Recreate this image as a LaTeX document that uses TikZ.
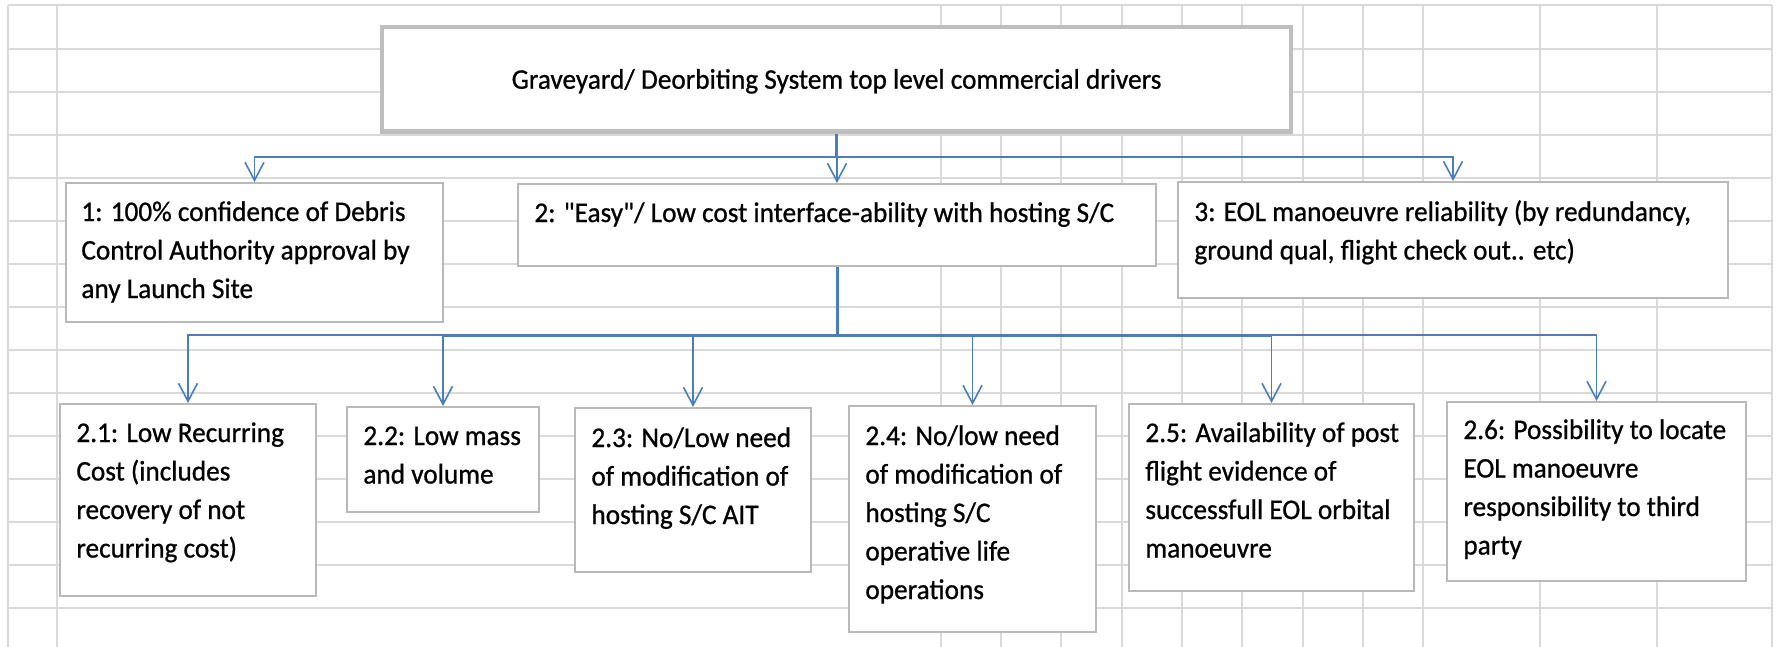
\documentclass[tikz,border=0pt]{standalone}
\usepackage{fontspec}
\setmainfont{Carlito}[FakeStretch=0.96,FakeBold=0.8,Ligatures=TeXOff]
\usetikzlibrary{arrows.meta,calc,fit}

\definecolor{gridgray}{RGB}{217,217,217}
\definecolor{boxgray}{RGB}{185,185,185}
\definecolor{framegray}{RGB}{190,190,190}
\definecolor{linkblue}{RGB}{74,126,187}

\newcommand\cellfont{\fontsize{14.2pt}{19.25pt}\selectfont}
\newcommand\cellpar[1]{\parbox[t]{400pt}{\raggedright #1}}

\begin{document}
\begin{tikzpicture}[x=0.5pt,y=-0.5pt,
  cell/.style={draw=gridgray,line width=1pt},
  card/.style={draw=boxgray,fill=white,line width=1pt,inner sep=0pt,rectangle},
  headcard/.style={draw=framegray,fill=white,line width=2.25pt,inner sep=0pt,rectangle},
  celltext/.style={inner sep=0pt,anchor=base west,font=\cellfont},
  conn/.style={draw=linkblue,line width=0.8pt},
  trunk/.style={draw=linkblue,line width=1.5pt},
  arrowlink/.style={conn,-{Straight Barb[length=9pt,width=9.5pt]}},
]
\useasboundingbox[fill=white] (0,0) rectangle (1777,647);

% spreadsheet grid in the background
\foreach \k in {0,...,14}
  \draw[cell] (8.4,5.5+43.05*\k) -- (1772,5.5+43.05*\k);
\foreach \xx in {8.4,57.4,941,1001,1061,1122,1182,1242,1302.5,1363,1423,1540,1657,1772}
  \draw[cell] (\xx,5.5) -- (\xx,647);

% boxes
\node[headcard, fit={(382,27) (1291,131.5)}] (b0) {};
\node[card, fit={(66,183) (443,322)}] (b1) {};
\node[card, fit={(518,184) (1156,266)}] (b2) {};
\node[card, fit={(1178,182) (1728,298)}] (b3) {};
\node[card, fit={(60,404) (316,596)}] (b21) {};
\node[card, fit={(347,407) (539,512)}] (b22) {};
\node[card, fit={(575,408) (811,572)}] (b23) {};
\node[card, fit={(849,406) (1096,632)}] (b24) {};
\node[card, fit={(1129,404) (1414,591)}] (b25) {};
\node[card, fit={(1447,402) (1746,581)}] (b26) {};

% texts
\node[inner sep=0pt,anchor=base,font=\cellfont] (t0) at ($(b0.center)+(0,9.5)$)
  {Graveyard/ Deorbiting System top level commercial drivers};
\node[celltext] (t1) at ($(b1.north west)+(16,39)$)
  {\cellpar{1: 100\% confidence of Debris\\Control Authority approval by\\any Launch Site}};
\node[celltext] (t2) at ($(b2.north west)+(17,39)$)
  {\cellpar{2: "Easy"/ Low cost interface-ability with hosting S/C}};
\node[celltext] (t3) at ($(b3.north west)+(17,40)$)
  {\cellpar{3: EOL manoeuvre reliability (by redundancy,\\ground qual, flight check out.. etc)}};
\node[celltext] (t21) at ($(b21.north west)+(17,39)$)
  {\cellpar{2.1: Low Recurring\\Cost (includes\\recovery of not\\recurring cost)}};
\node[celltext] (t22) at ($(b22.north west)+(17,39)$)
  {\cellpar{2.2: Low mass\\and volume}};
\node[celltext] (t23) at ($(b23.north west)+(17,40)$)
  {\cellpar{2.3: No/Low need\\of modification of\\hosting S/C AIT}};
\node[celltext] (t24) at ($(b24.north west)+(17,40)$)
  {\cellpar{2.4: No/low need\\of modification of\\hosting S/C\\operative life\\operations}};
\node[celltext] (t25) at ($(b25.north west)+(17,39)$)
  {\cellpar{2.5: Availability of post\\flight evidence of\\successfull EOL orbital\\manoeuvre}};
\node[celltext] (t26) at ($(b26.north west)+(17,38)$)
  {\cellpar{2.6: Possibility to locate\\EOL manoeuvre\\responsibility to third\\party}};

% connectors, top level
\coordinate (hub1) at (836.5,157);
\draw[trunk] (b0.south) -- (b0.south |- hub1);
\foreach \t in {b1,b2,b3}
  \draw[arrowlink] (b0.south) |- (\t.north |- hub1) -- (\t.north);

% connectors, second level
\coordinate (hub2) at (837,335);
\draw[trunk] (b2.south) -- (b2.south |- hub2);
\draw[trunk] (b22.north |- hub2) -- (b25.north |- hub2);
\foreach \t in {b21,b22,b23,b24,b25,b26}
  \draw[arrowlink] (b2.south) |- (\t.north |- hub2) -- (\t.north);
\end{tikzpicture}
\end{document}
